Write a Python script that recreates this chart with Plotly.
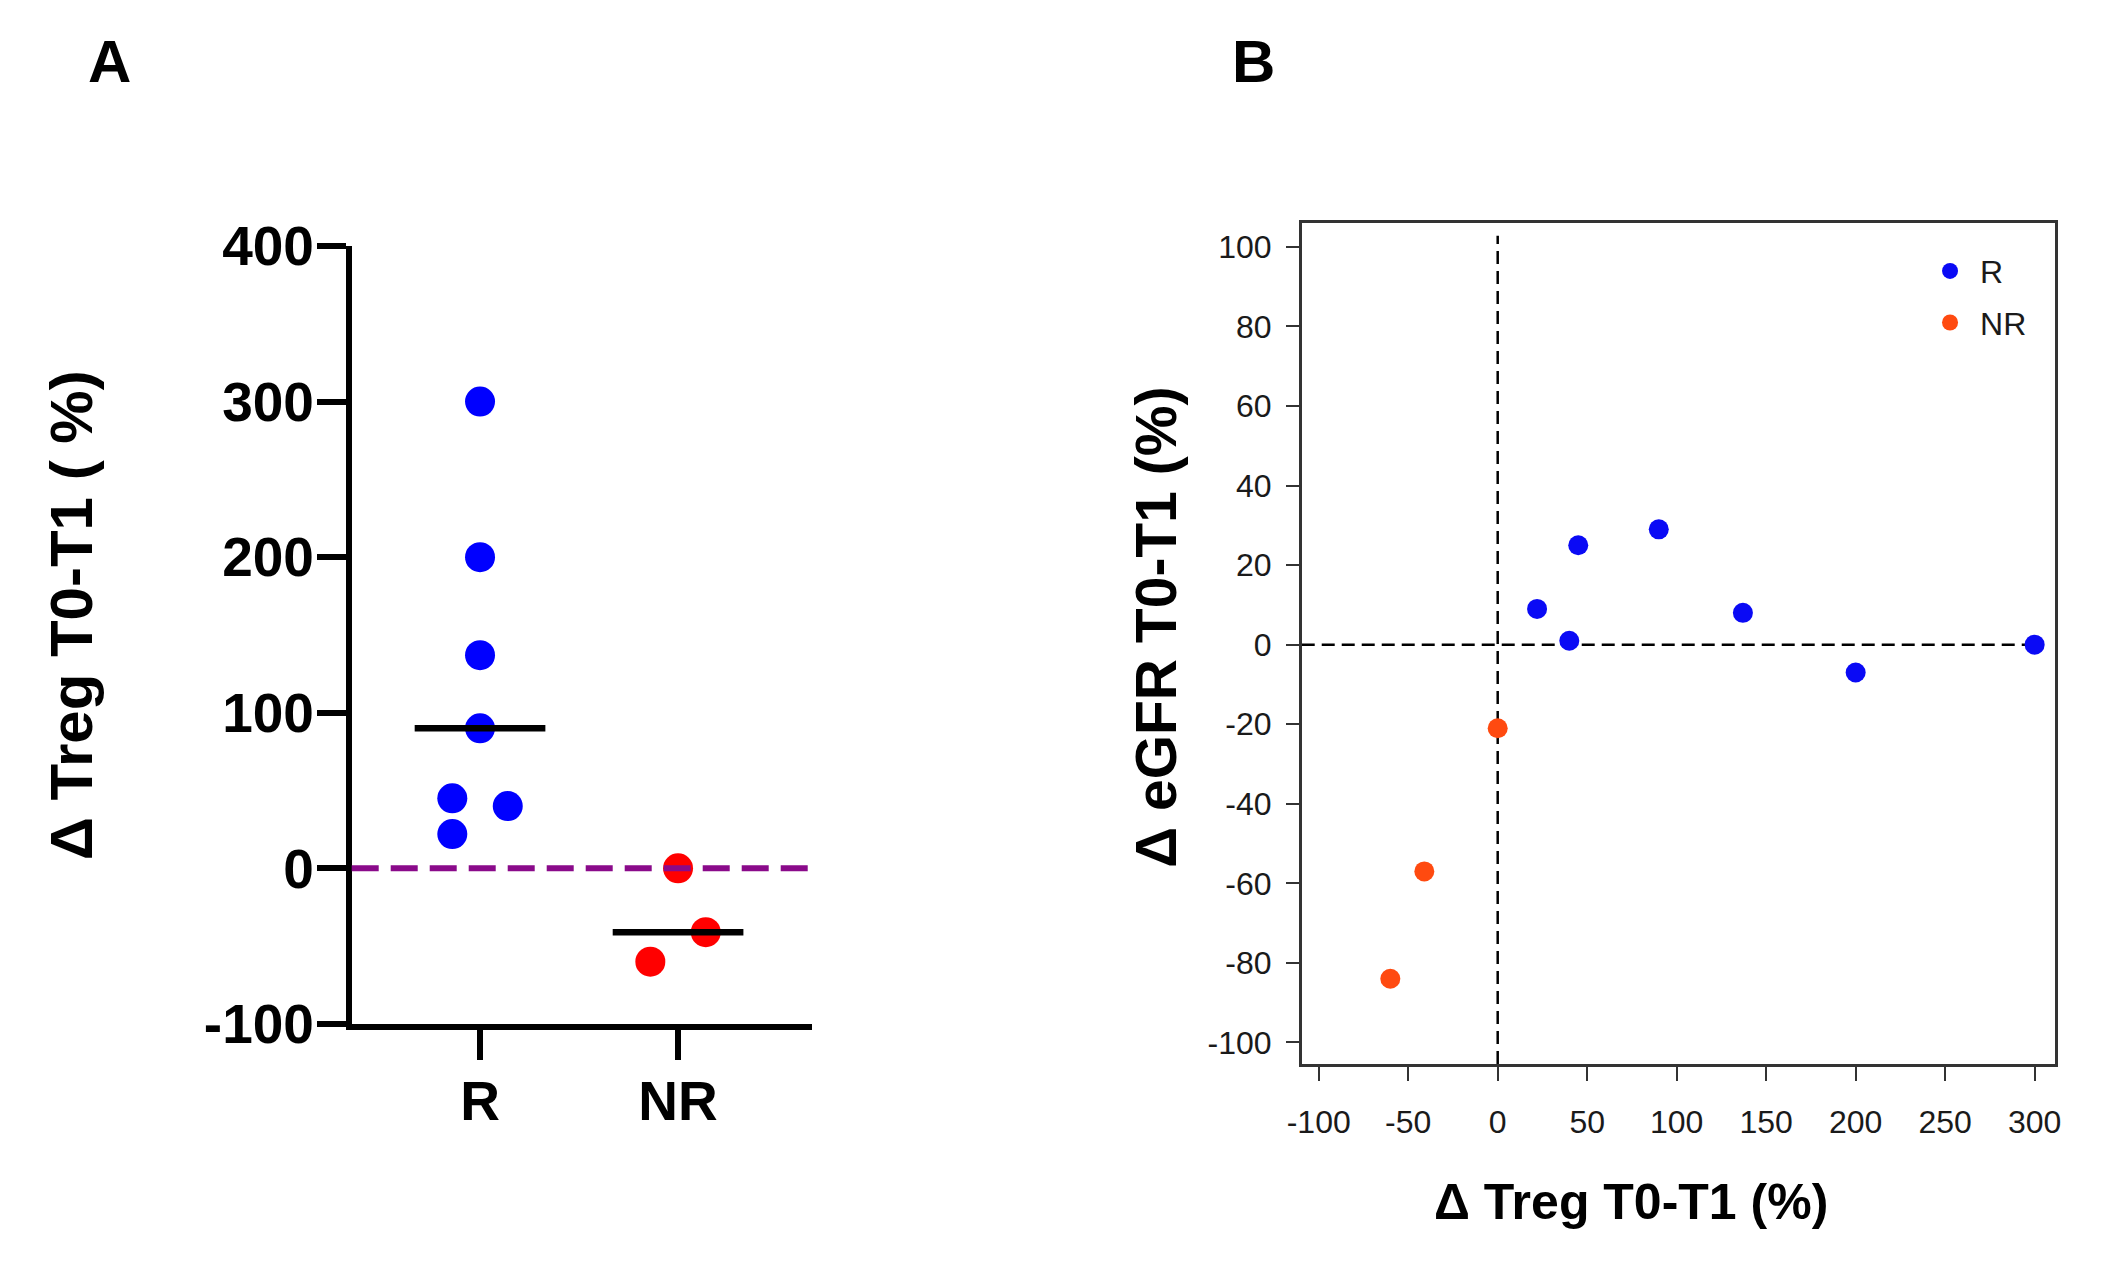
import statistics
import plotly.graph_objects as go

# ---------------- data ----------------
categories = ["R", "NR"]
treg_R = [300, 200, 137, 90, 45, 40, 22]
treg_NR = [0, -41, -60]
egfr_R = [0, -7, 8, 29, 25, 1, 9]
egfr_NR = [-21, -57, -84]
swarm_R = [0, 0, 0, 0, -0.14, 0.14, -0.14]
swarm_NR = [0, 0.14, -0.14]
y_ticks_A = [-100, 0, 100, 200, 300, 400]
x_ticks_B = [-100, -50, 0, 50, 100, 150, 200, 250, 300]
y_ticks_B = [-100, -80, -60, -40, -20, 0, 20, 40, 60, 80, 100]

FONT = "Liberation Sans, Arial, sans-serif"
W, H = 2122, 1282

fig = go.Figure()

# ---------------- panel A ----------------
xR = [0 + o for o in swarm_R]
xNR = [1 + o for o in swarm_NR]
fig.add_trace(go.Scatter(x=xR, y=treg_R, mode="markers", xaxis="x", yaxis="y",
                         marker=dict(color="#0000FF", size=30), showlegend=False))
fig.add_trace(go.Scatter(x=xNR, y=treg_NR, mode="markers", xaxis="x", yaxis="y",
                         marker=dict(color="#FF0000", size=30), showlegend=False))
for i, vals in enumerate([treg_R, treg_NR]):
    m = statistics.median(vals)
    fig.add_trace(go.Scatter(x=[i - 0.33, i + 0.33], y=[m, m], mode="lines",
                             xaxis="x", yaxis="y", line=dict(color="black", width=6.5),
                             showlegend=False, hoverinfo="skip"))

# ---------------- panel B ----------------
fig.add_trace(go.Scatter(x=treg_R, y=egfr_R, mode="markers", name="R", xaxis="x2", yaxis="y2",
                         marker=dict(color="#0A0AF5", size=20), legendgroup="R"))
fig.add_trace(go.Scatter(x=treg_NR, y=egfr_NR, mode="markers", name="NR", xaxis="x2", yaxis="y2",
                         marker=dict(color="#FF4A10", size=20), legendgroup="NR"))

shapes = [
    dict(type="line", xref="x domain", yref="y", x0=0, x1=1.005, y0=0, y1=0,
         line=dict(color="#8A0A8A", width=6, dash="27px,12px"), layer="above"),
    dict(type="line", xref="x2 domain", yref="y2", x0=0, x1=0.985, y0=0, y1=0,
         line=dict(color="black", width=2.5, dash="13px,7px"), layer="below"),
    dict(type="line", xref="x2", yref="y2 domain", x0=0, x1=0, y0=0, y1=0.985,
         line=dict(color="black", width=2.5, dash="13px,7px"), layer="below"),
]

axA_tick = dict(family=FONT, size=55, color="black", weight="bold")
axB_tick = dict(family=FONT, size=32, color="#1a1a1a")

fig.update_layout(
    width=W, height=H,
    margin=dict(l=0, r=0, t=0, b=0),
    paper_bgcolor="white", plot_bgcolor="white",
    font=dict(family=FONT),
    shapes=shapes,
    xaxis=dict(domain=[332 / W, 796.6 / W], range=[-0.648, 1.675], anchor="y",
               tickvals=[0, 1], ticktext=categories, tickfont=axA_tick,
               showline=True, linecolor="black", linewidth=5.5,
               ticks="outside", ticklen=30, tickwidth=5.5, tickcolor="black",
               ticklabelstandoff=-6, showgrid=False, zeroline=False),
    yaxis=dict(domain=[(H - 1035) / H, (H - 217.5) / H], range=[-100, 400], anchor="x",
               tickvals=y_ticks_A, ticktext=[str(v) for v in y_ticks_A], tickfont=axA_tick,
               showline=True, linecolor="black", linewidth=5.5,
               ticks="outside", ticklen=29, tickwidth=5.5, tickcolor="black",
               ticklabelstandoff=-8, showgrid=False, zeroline=False),
    xaxis2=dict(domain=[1291.5 / W, 2052 / W], range=[-109.5, 311.2], anchor="y2",
                tickvals=x_ticks_B, ticktext=[str(v) for v in x_ticks_B], tickfont=axB_tick,
                showline=True, mirror=True, linecolor="#333333", linewidth=2.5,
                ticks="outside", ticklen=14, tickwidth=2, tickcolor="#333333",
                ticklabelstandoff=14, showgrid=False, zeroline=False),
    yaxis2=dict(domain=[(H - 1077) / H, (H - 193.6) / H], range=[-105.4, 105.96], anchor="x2",
                tickvals=y_ticks_B, ticktext=[str(v) for v in y_ticks_B], tickfont=axB_tick,
                showline=True, mirror=True, linecolor="#333333", linewidth=2.5,
                ticks="outside", ticklen=13, tickwidth=2, tickcolor="#333333",
                ticklabelstandoff=8, showgrid=False, zeroline=False),
    legend=dict(x=1916 / W, y=(H - 215) / H, xanchor="left", yanchor="top",
                font=dict(family=FONT, size=32, color="#1a1a1a"), itemwidth=50,
                bgcolor="rgba(0,0,0,0)", tracegroupgap=7, traceorder="grouped"),
    annotations=[
        dict(text="Δ Treg T0-T1 ( %)", x=49 / W, y=(H - 606) / H, xref="paper", yref="paper",
             textangle=-90, showarrow=False, xanchor="center", yanchor="middle",
             font=dict(family=FONT, size=60, color="black", weight="bold")),
        dict(text="Δ eGFR T0-T1 (%)", x=1144 / W, y=(H - 618) / H, xref="paper", yref="paper",
             textangle=-90, showarrow=False, xanchor="center", yanchor="middle",
             font=dict(family=FONT, size=57, color="black", weight="bold")),
        dict(text="Δ Treg T0-T1 (%)", x=1624 / W, y=(H - 1222) / H, xref="paper", yref="paper",
             showarrow=False, xanchor="center", yanchor="middle",
             font=dict(family=FONT, size=50, color="black", weight="bold")),
        dict(text="A", x=87 / W, y=(H - 24) / H, xref="paper", yref="paper",
             showarrow=False, xanchor="center", yanchor="middle",
             font=dict(family=FONT, size=60, color="black", weight="bold")),
        dict(text="B", x=1243 / W, y=(H - 24) / H, xref="paper", yref="paper",
             showarrow=False, xanchor="center", yanchor="middle",
             font=dict(family=FONT, size=60, color="black", weight="bold")),
    ],
)

fig.write_html("out.html")
